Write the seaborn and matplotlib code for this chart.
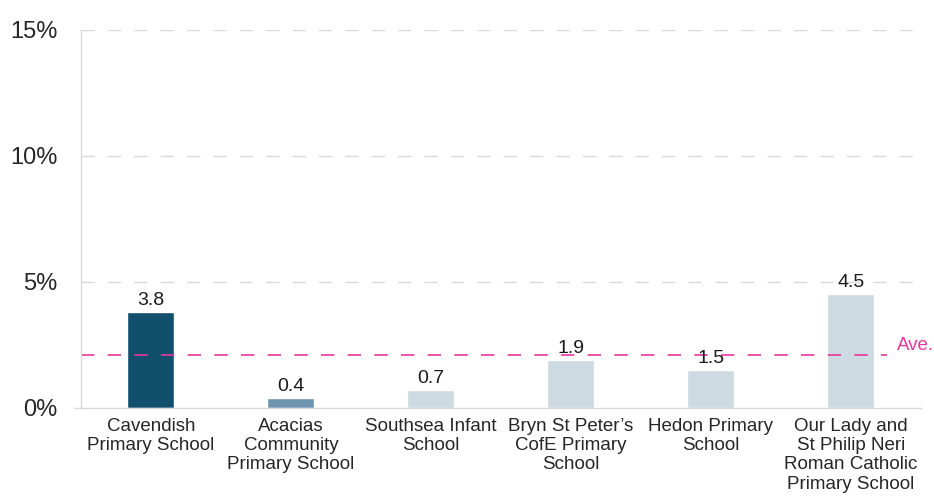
import matplotlib
matplotlib.use('Agg')
import matplotlib.pyplot as plt
import seaborn as sns
import pandas as pd
import numpy as np

schools = ['Cavendish\nPrimary School', 'Acacias\nCommunity\nPrimary School', 'Southsea Infant\nSchool',
           'Bryn St Peter\u2019s\nCofE Primary\nSchool', 'Hedon Primary\nSchool',
           'Our Lady and\nSt Philip Neri\nRoman Catholic\nPrimary School']
values = [3.8, 0.4, 0.7, 1.9, 1.5, 4.5]
bar_colors = ['#124f6c', '#6d94ae', '#cddae2', '#cddae2', '#cddae2', '#cddae2']
average = 2.1
y_ticks = [0, 5, 10, 15]
y_tick_labels = ['0%', '5%', '10%', '15%']

sns.set_style('white')
plt.rcParams['font.family'] = ['Liberation Sans', 'DejaVu Sans']

df = pd.DataFrame({'school': schools, 'value': values})

fig = plt.figure(figsize=(9.34, 4.98), dpi=100)
ax = fig.add_axes([0.0867, 0.181, 0.899, 0.759])

sns.barplot(data=df, x='school', y='value', hue='school', palette=bar_colors,
            width=0.336, legend=False, ax=ax, saturation=1)

for i, v in enumerate(values):
    ax.text(i, v + 0.12, f'{v:.1f}', ha='center', va='bottom', fontsize=14, color='#1a1a1a')

pink = '#e8379b'
ax.axhline(average, xmin=0, xmax=0.96, color=pink, lw=1.2, dashes=(8, 8))
ax.text(5.33, average + 0.05, 'Ave.', color=pink, fontsize=13.5, ha='left', va='bottom')

ax.set_ylim(0, 15)
ax.set_xlim(-0.5, 5.5)
ax.set_yticks(y_ticks)
ax.set_yticklabels(y_tick_labels, fontsize=17)
for t in y_ticks[1:]:
    ax.axhline(t, color='#d9d9d9', lw=1, dashes=(9.5, 9.5), zorder=0)

ax.set_xticks(np.arange(len(schools)))
ax.set_xticklabels(schools, fontsize=13.5, linespacing=1.18)
ax.set_xticks(np.arange(-0.5, len(schools), 1), minor=True)
ax.tick_params(axis='x', which='major', length=0, pad=7)
ax.tick_params(axis='x', which='minor', length=4, color='#d9d9d9', direction='out')
ax.tick_params(axis='y', length=5, color='#d9d9d9', pad=12)
ax.set_xlabel('')
ax.set_ylabel('')

for s in ['top', 'right']:
    ax.spines[s].set_visible(False)
for s in ['left', 'bottom']:
    ax.spines[s].set_color('#d9d9d9')
    ax.spines[s].set_linewidth(1)
ax.spines['bottom'].set_bounds(-0.55, 5.5)

fig.savefig('out.png', dpi=100)
